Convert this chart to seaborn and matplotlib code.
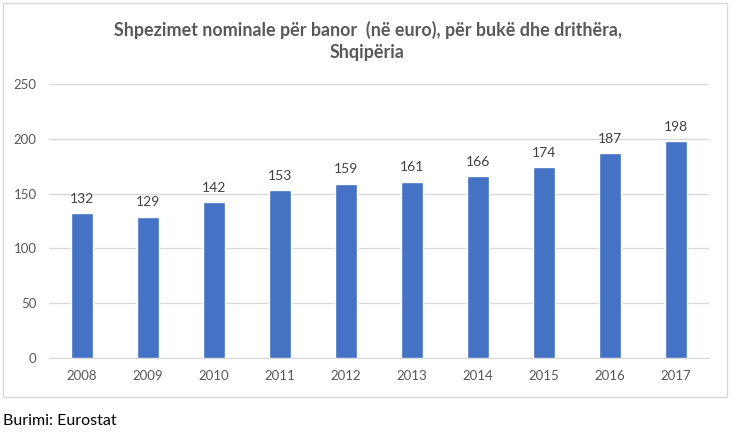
import matplotlib
matplotlib.use('Agg')
import matplotlib.pyplot as plt
from matplotlib.patches import Rectangle
import pandas as pd
import seaborn as sns

# data
years = ['2008', '2009', '2010', '2011', '2012', '2013', '2014', '2015', '2016', '2017']
values = [132, 129, 142, 153, 159, 161, 166, 174, 187, 198]
title = 'Shpezimet nominale për banor  (në euro), për bukë dhe drithëra,\nShqipëria'
source = 'Burimi: Eurostat'

sns.set_style('white')
plt.rcParams['font.family'] = ['Lato', 'DejaVu Sans']
grey = '#595959'

df = pd.DataFrame({'year': years, 'value': values})

fig = plt.figure(figsize=(7.35, 4.34), dpi=100)
ax = fig.add_axes([49 / 735, 1 - 358 / 434, 660 / 735, 274 / 434])
sns.barplot(data=df, x='year', y='value', color='#4472C4', width=0.32,
            saturation=1, ax=ax, zorder=3)

ax.set_ylim(0, 250)
ax.set_yticks(range(0, 251, 50))
ax.yaxis.grid(True, color='#d9d9d9', linewidth=1, zorder=0)
ax.set_axisbelow(True)
for s in ['top', 'right', 'left']:
    ax.spines[s].set_visible(False)
ax.spines['bottom'].set_color('#d9d9d9')
ax.set_xlabel('')
ax.set_ylabel('')
ax.tick_params(axis='both', length=0, labelsize=9.5, labelcolor=grey)
ax.tick_params(axis='x', pad=9)
ax.tick_params(axis='y', pad=9)

for c in ax.containers:
    ax.bar_label(c, padding=6, fontsize=10, color='#404040')

fig.text(0.5, 1 - 41 / 434, title, ha='center', va='center', fontsize=12.9,
         fontweight='bold', color=grey, linespacing=1.4)

# chart frame
fig.patches.append(Rectangle((3 / 735, 1 - 397 / 434), 724 / 735, 394 / 434,
                             transform=fig.transFigure, fill=False,
                             edgecolor='#d9d9d9', linewidth=1))
fig.text(3 / 735, 1 - 421 / 434, source, ha='left', va='center',
         fontsize=11.5, color='black')

fig.savefig('out.png', dpi=100)
